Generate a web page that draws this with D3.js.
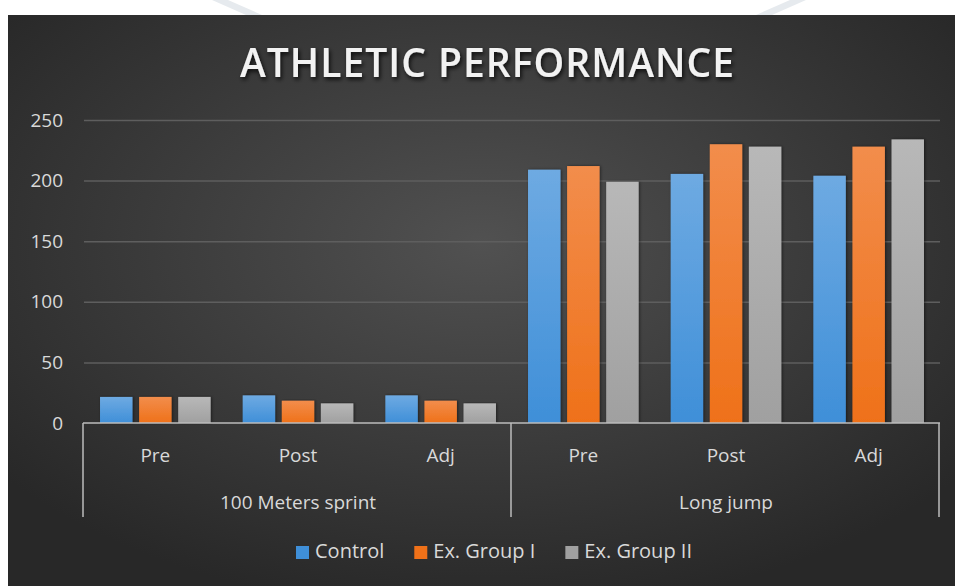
<!DOCTYPE html>
<html>
<head>
<meta charset="utf-8">
<script src="https://cdn.jsdelivr.net/npm/d3@7"></script>
<style>
  html, body { margin: 0; padding: 0; background: #fff; }
  svg { display: block; }
  text { font-family: "Open Sans", "Noto Sans", sans-serif; }
</style>
</head>
<body>
<div id="chart"></div>
<script>
const groups = ["100 Meters sprint", "Long jump"];
const phases = ["Pre", "Post", "Adj"];
const series = ["Control", "Ex. Group I", "Ex. Group II"];
const control = [21.5, 22.8, 22.8, 209, 205.5, 204];
const exGroupI = [21.5, 18.4, 18.4, 212, 230, 228];
const exGroupII = [21.5, 16.2, 16.2, 199, 228, 234];
const yTicks = [0, 50, 100, 150, 200, 250];

const width = 955, height = 586;
const colors = {"Control": ["#6eaae2", "#3f8fd8"], "Ex. Group I": ["#f28d4c", "#ef7119"], "Ex. Group II": ["#b8b8b8", "#a0a0a0"]};

const cats = [];
groups.forEach(g => phases.forEach(p => cats.push({group: g, phase: p, key: g + "|" + p})));
const values = [control, exGroupI, exGroupII];
const table = cats.map((c, i) => ({key: c.key, vals: series.map((s, j) => ({series: s, value: values[j][i]}))}));

const svg = d3.select('#chart')
  .append('svg')
    .attr('width', width)
    .attr('height', height);

const defs = svg.append('defs');
const bg = defs.append('radialGradient').attr('id', 'bg')
  .attr('cx', '50%').attr('cy', '40%').attr('r', '65%');
bg.append('stop').attr('offset', '0%').attr('stop-color', '#515151');
bg.append('stop').attr('offset', '100%').attr('stop-color', '#282828');

series.forEach((s, i) => {
  const g = defs.append('linearGradient').attr('id', 'bar' + i)
    .attr('x1', 0).attr('y1', 0).attr('x2', 0).attr('y2', 1);
  g.append('stop').attr('offset', '0%').attr('stop-color', colors[s][0]);
  g.append('stop').attr('offset', '100%').attr('stop-color', colors[s][1]);
});

const shadow = defs.append('filter').attr('id', 'tshadow')
  .attr('x', '-10%').attr('y', '-30%').attr('width', '120%').attr('height', '160%');
shadow.append('feDropShadow').attr('dx', 1.5).attr('dy', 2.5).attr('stdDeviation', 2)
  .attr('flood-color', '#000').attr('flood-opacity', 0.8);

const barShadow = defs.append('filter').attr('id', 'bshadow')
  .attr('x', '-20%').attr('y', '-5%').attr('width', '140%').attr('height', '110%');
barShadow.append('feDropShadow').attr('dx', 1).attr('dy', 0).attr('stdDeviation', 1.5)
  .attr('flood-color', '#000').attr('flood-opacity', 0.5);

// faint watermark in the white strip
svg.append('path').attr('d', 'M212,0 L228,0 L262,15 L246,15 Z').attr('fill', '#e6eaee');
svg.append('path').attr('d', 'M790,0 L806,0 L772,15 L756,15 Z').attr('fill', '#e6eaee');

svg.append('rect')
  .attr('x', 8).attr('y', 15)
  .attr('width', width - 8).attr('height', height - 15)
  .attr('fill', 'url(#bg)');

svg.append('text')
  .attr('x', 487).attr('y', 77)
  .attr('text-anchor', 'middle')
  .attr('fill', '#f2f2f2')
  .attr('font-size', 39)
  .attr('font-weight', 600)
  .attr('textLength', 494)
  .attr('lengthAdjust', 'spacing')
  .attr('filter', 'url(#tshadow)')
  .text('ATHLETIC PERFORMANCE');

const x = d3.scaleBand()
  .domain(cats.map(c => c.key))
  .range([84, 940])
  .padding(0);

const x1 = d3.scaleBand()
  .domain(series)
  .range([0, x.bandwidth()])
  .paddingInner(0.17)
  .paddingOuter(0.41);

const y = d3.scaleLinear()
  .domain([0, 250])
  .range([423, 120]);

// gridlines
const grid = svg.append('g')
  .attr('transform', 'translate(84,0)')
  .call(d3.axisLeft(y).tickValues(yTicks.slice(1)).tickSize(-(940 - 84)).tickFormat(''));
grid.select('.domain').remove();
grid.selectAll('line').attr('stroke', '#5e5e5e').attr('stroke-width', 1.5);

// y labels
const yAxis = svg.append('g')
  .attr('transform', 'translate(66,0)')
  .call(d3.axisLeft(y).tickValues(yTicks).tickSize(0).tickPadding(3));
yAxis.select('.domain').remove();
yAxis.selectAll('text')
  .attr('fill', '#d9d9d9')
  .attr('font-size', 19)
  .attr('font-family', '"Open Sans", sans-serif');

// bars
const catG = svg.append('g').selectAll('g')
  .data(table)
  .join('g')
    .attr('transform', d => `translate(${x(d.key)},0)`);

catG.selectAll('rect')
  .data(d => d.vals)
  .join('rect')
    .attr('x', d => x1(d.series))
    .attr('y', d => y(d.value))
    .attr('width', x1.bandwidth())
    .attr('height', d => y(0) - y(d.value))
    .attr('fill', d => `url(#bar${series.indexOf(d.series)})`)
    .attr('filter', 'url(#bshadow)');

// category axis
const axisColor = '#bdbdbd';
const axisG = svg.append('g');
axisG.append('line')
  .attr('x1', x.range()[0] - 1).attr('x2', x.range()[1])
  .attr('y1', y(0)).attr('y2', y(0))
  .attr('stroke', axisColor).attr('stroke-width', 1.5);

const edges = [x(cats[0].key)];
groups.forEach(g => {
  const last = cats.filter(c => c.group === g).slice(-1)[0];
  edges.push(x(last.key) + x.bandwidth());
});
axisG.selectAll('line.sep')
  .data(edges)
  .join('line')
    .attr('class', 'sep')
    .attr('x1', d => d - 1).attr('x2', d => d - 1)
    .attr('y1', y(0)).attr('y2', 517)
    .attr('stroke', axisColor).attr('stroke-width', 1.5);

axisG.selectAll('text.phase')
  .data(cats)
  .join('text')
    .attr('class', 'phase')
    .attr('x', d => x(d.key) + x.bandwidth() / 2)
    .attr('y', 462)
    .attr('text-anchor', 'middle')
    .attr('fill', '#d9d9d9')
    .attr('font-size', 19)
    .text(d => d.phase);

axisG.selectAll('text.group')
  .data(groups)
  .join('text')
    .attr('class', 'group')
    .attr('x', g => {
      const gc = cats.filter(c => c.group === g);
      return (x(gc[0].key) + x(gc[gc.length - 1].key) + x.bandwidth()) / 2;
    })
    .attr('y', 509)
    .attr('text-anchor', 'middle')
    .attr('fill', '#d9d9d9')
    .attr('font-size', 19)
    .text(g => g);

// legend
const legend = svg.append('g');
const items = legend.selectAll('g')
  .data(series)
  .join('g');
items.append('rect')
  .attr('width', 13).attr('height', 13)
  .attr('y', -12)
  .attr('fill', (d, i) => colors[d][1]);
items.append('text')
  .attr('x', 19)
  .attr('fill', '#d9d9d9')
  .attr('font-size', 20)
  .text(d => d);
let offset = 0;
items.each(function() {
  const w = d3.select(this).select('text').node().getComputedTextLength();
  d3.select(this).attr('transform', `translate(${offset},0)`);
  offset += 19 + w + 30;
});
const legendWidth = offset - 30;
legend.attr('transform', `translate(${494 - legendWidth / 2},558)`);
</script>
</body>
</html>
